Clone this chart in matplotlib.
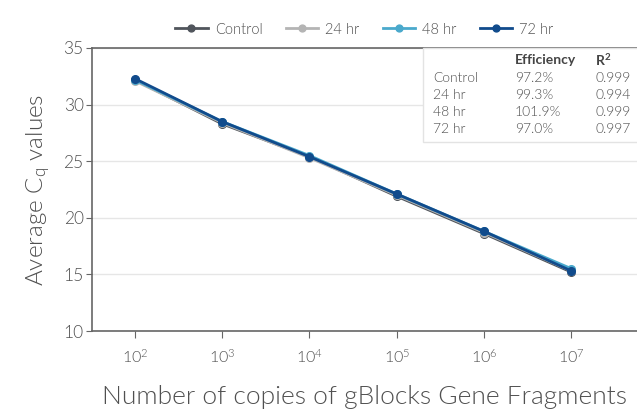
import matplotlib.pyplot as plt
from matplotlib.patches import Rectangle

plt.rcParams['font.family'] = ['Lato', 'DejaVu Sans']
plt.rcParams['font.weight'] = 300
plt.rcParams['axes.labelweight'] = 300
plt.rcParams['mathtext.fontset'] = 'custom'
plt.rcParams['mathtext.rm'] = 'Lato:weight=300'
plt.rcParams['mathtext.it'] = 'Lato:weight=300'
plt.rcParams['mathtext.bf'] = 'Lato:bold'

# copies per reaction and average Cq per condition
copies   = [1e2, 1e3, 1e4, 1e5, 1e6, 1e7]
control  = [32.2, 28.3, 25.4, 21.9, 18.6, 15.2]
hr_24    = [32.1, 28.4, 25.3, 22.0, 18.7, 15.3]
hr_48    = [32.2, 28.5, 25.5, 22.1, 18.8, 15.5]
hr_72    = [32.3, 28.5, 25.4, 22.1, 18.8, 15.3]

series_names = ['Control', '24 hr', '48 hr', '72 hr']
series_vals  = [control, hr_24, hr_48, hr_72]
colors       = ['#50555c', '#b4b4b4', '#4aa9cc', '#114b8c']

efficiency = ['97.2%', '99.3%', '101.9%', '97.0%']
r_squared  = ['0.999', '0.994', '0.999', '0.997']

TXT = '#505050'

fig = plt.figure(figsize=(6.37, 4.12), dpi=100)
ax = fig.add_axes([0.1444, 0.1966, 0.8556, 0.6869])

for name, vals, clr in zip(series_names, series_vals, colors):
    ax.plot(copies, vals, color=clr, lw=2, marker='o', ms=5.5, label=name)

ax.set_xscale('log')
ax.set_xlim(10**1.51, 10**7.75)
ax.set_ylim(10, 35)
ax.set_xticks(copies)
ax.set_xticklabels([f'$10^{{{i}}}$' for i in range(2, 8)])
ax.minorticks_off()
ax.set_yticks([10, 15, 20, 25, 30, 35])

ax.yaxis.grid(True, color='#e6e6e6', lw=1)
ax.set_axisbelow(True)
for side in ['left', 'bottom', 'top']:
    ax.spines[side].set_color('#666666')
    ax.spines[side].set_linewidth(1.2)
ax.spines['right'].set_visible(False)

ax.tick_params(axis='y', labelsize=12.5, colors='#666666', labelcolor=TXT, length=4, pad=2)
ax.tick_params(axis='x', labelsize=11.5, colors='#666666', labelcolor=TXT, length=5, pad=7)

ax.set_ylabel('Average C$_\\mathregular{q}$ values', fontsize=17.5, color=TXT, labelpad=8)
ax.set_xlabel('Number of copies of gBlocks Gene Fragments', fontsize=19, color=TXT, labelpad=14)

ax.legend(loc='lower center', bbox_to_anchor=(0.5, 1.02), ncol=4, frameon=False,
          fontsize=10.5, labelcolor=TXT, handlelength=2.2, columnspacing=1.6, handletextpad=0.5,
          borderaxespad=0, markerscale=0.9)

# efficiency / R² summary box
fig.patches.append(Rectangle((423 / 637, 1 - 142 / 412), 0.5, (142 - 48) / 412,
                             transform=fig.transFigure, facecolor='white',
                             edgecolor='#e3e3e3', lw=1, zorder=3))
x_cols = [433 / 637, 515 / 637, 595 / 637]
fig.text(x_cols[1], 1 - 60 / 412, 'Efficiency', fontsize=10, color='#444444',
         fontweight='bold', va='center', zorder=4)
fig.text(x_cols[2], 1 - 60 / 412, 'R$^\\mathregular{2}$', fontsize=10, color='#444444',
         fontweight='bold', va='center', zorder=4)
for i, name in enumerate(series_names):
    y = 1 - (78 + 17 * i) / 412
    fig.text(x_cols[0], y, name, fontsize=10, color=TXT, va='center', zorder=4)
    fig.text(x_cols[1], y, efficiency[i], fontsize=10, color=TXT, va='center', zorder=4)
    fig.text(x_cols[2], y, r_squared[i], fontsize=10, color=TXT, va='center', zorder=4)

fig.savefig('out.png', dpi=100)
